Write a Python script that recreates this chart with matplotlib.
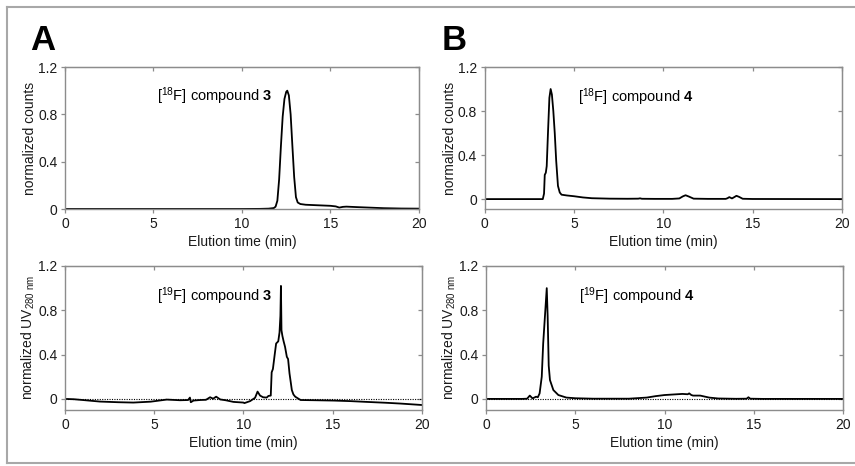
import matplotlib
matplotlib.use("Agg")
import matplotlib.pyplot as plt
from matplotlib.lines import Line2D

plt.rcParams['font.family'] = ['Liberation Sans', 'DejaVu Sans']
plt.rcParams['mathtext.fontset'] = 'custom'
plt.rcParams['mathtext.rm'] = 'Liberation Sans'
plt.rcParams['mathtext.it'] = 'Liberation Sans:italic'
plt.rcParams['mathtext.bf'] = 'Liberation Sans:bold'

# A, top: [18F] compound 3 radio trace
t_a18 = [0, 5, 10, 11.0, 11.5, 11.8, 11.9, 12.0, 12.1, 12.2, 12.3, 12.4, 12.5, 12.56,
         12.65, 12.75, 12.85, 12.95, 13.05, 13.15, 13.3, 13.6, 14.2, 15.0, 15.3, 15.5,
         15.7, 15.9, 16.5, 17.0, 18.0, 19.0, 20.0]
v_a18 = [0, 0, 0, 0.001, 0.003, 0.008, 0.02, 0.07, 0.25, 0.53, 0.78, 0.93, 0.99, 1.0,
         0.96, 0.8, 0.53, 0.27, 0.1, 0.055, 0.042, 0.036, 0.032, 0.027, 0.022, 0.012,
         0.018, 0.02, 0.016, 0.013, 0.007, 0.004, 0.003]

# B, top: [18F] compound 4 radio trace
t_b18 = [0, 3.0, 3.25, 3.32, 3.36, 3.42, 3.47, 3.54, 3.62, 3.69, 3.76, 3.84, 3.92, 4.0,
         4.1, 4.2, 4.3, 4.6, 5.0, 5.5, 6.0, 7.0, 8.0, 8.6, 8.7, 8.8, 9.5, 10.5, 10.9,
         11.1, 11.25, 11.45, 11.7, 12.5, 13.5, 13.6, 13.7, 13.85, 14.0, 14.1, 14.25,
         14.45, 15.0, 20.0]
v_b18 = [0, 0, 0.0, 0.05, 0.22, 0.24, 0.3, 0.6, 0.92, 1.0, 0.95, 0.8, 0.6, 0.35,
         0.12, 0.06, 0.04, 0.033, 0.026, 0.015, 0.008, 0.004, 0.003, 0.004, 0.007, 0.003,
         0.002, 0.002, 0.006, 0.025, 0.035, 0.022, 0.004, 0.002, 0.002, 0.008, 0.018,
         0.006, 0.02, 0.03, 0.02, 0.003, 0.001, 0.0]

# A, bottom: [19F] compound 3 UV trace
t_a19 = [0, 0.5, 1.0, 1.96, 3.0, 3.83, 4.8, 5.7, 6.45, 6.9, 7.0, 7.05, 7.2, 7.57,
         7.9, 8.13, 8.3, 8.47, 8.7, 9.0, 9.44, 10.0, 10.05, 10.37, 10.65, 10.79, 10.93,
         11.1, 11.3, 11.4, 11.53, 11.58, 11.65, 11.75, 11.83, 11.95, 12.02, 12.07, 12.1,
         12.13, 12.18, 12.25, 12.33, 12.43, 12.5, 12.58, 12.65, 12.71, 12.8, 12.9, 13.2,
         14.0, 15.05, 16.0, 16.9, 18.0, 18.8, 20.0]
v_a19 = [0, -0.003, -0.01, -0.024, -0.03, -0.033, -0.025, -0.006, -0.012, -0.01, 0.012,
         -0.03, -0.015, -0.01, -0.008, 0.015, 0.002, 0.02, -0.005, -0.012, -0.027, -0.033,
         -0.038, -0.02, 0.01, 0.066, 0.03, 0.015, 0.012, 0.027, 0.03, 0.24, 0.27, 0.4,
         0.5, 0.52, 0.6, 0.75, 1.02, 0.62, 0.57, 0.52, 0.47, 0.38, 0.36, 0.23, 0.15, 0.08,
         0.04, 0.02, -0.01, -0.012, -0.015, -0.02, -0.027, -0.035, -0.042, -0.055]

# B, bottom: [19F] compound 4 UV trace
t_b19 = [0, 2.0, 2.3, 2.45, 2.6, 2.7, 2.8, 2.9, 3.0, 3.12, 3.2, 3.3, 3.4, 3.45, 3.51,
         3.58, 3.77, 4.05, 4.5, 5.0, 6.0, 8.0, 9.0, 9.5, 10.0, 10.5, 11.0, 11.3, 11.38,
         11.5, 11.6, 12.0, 12.5, 13.0, 14.0, 14.6, 14.7, 14.8, 15.5, 20.0]
v_b19 = [0, 0, 0.002, 0.03, 0.005, 0.012, 0.02, 0.015, 0.05, 0.2, 0.5, 0.75, 1.0, 0.75,
         0.3, 0.17, 0.08, 0.035, 0.012, 0.006, 0.002, 0.002, 0.012, 0.025, 0.035, 0.04,
         0.045, 0.042, 0.05, 0.035, 0.03, 0.03, 0.012, 0.004, 0.001, 0.002, 0.015, 0.002,
         0.0, 0.0]

x_ticks = [0, 5, 10, 15, 20]
y_ticks = [0, 0.4, 0.8, 1.2]
y_tick_labels = ['0', '0.4', '0.8', '1.2']

SPINE = '#8c8c8c'


def style_axes(ax, ybottom, ylabel):
    ax.set_xlim(0, 20)
    ax.set_ylim(ybottom, 1.2)
    ax.set_xticks(x_ticks)
    ax.set_yticks(y_ticks)
    ax.set_yticklabels(y_tick_labels)
    for s in ax.spines.values():
        s.set_color(SPINE)
        s.set_linewidth(1.0)
    ax.tick_params(direction='out', length=3, width=0.9, color=SPINE,
                   labelsize=10, labelcolor='#1a1a1a', pad=2.5)
    # inward ticks on top and right edges
    top = ax.secondary_xaxis('top')
    top.set_xticks(x_ticks)
    top.tick_params(direction='in', length=3, width=0.9, color=SPINE, labeltop=False)
    top.spines['top'].set_color(SPINE)
    right = ax.secondary_yaxis('right')
    right.set_yticks(y_ticks)
    right.tick_params(direction='in', length=3, width=0.9, color=SPINE, labelright=False)
    right.spines['right'].set_color(SPINE)
    ax.set_xlabel('Elution time (min)', fontsize=10, labelpad=3, color='#1a1a1a')
    ax.set_ylabel(ylabel, fontsize=10, labelpad=1, color='#1a1a1a')


fig = plt.figure(figsize=(8.55, 4.66), dpi=100)

ax1 = fig.add_axes([0.076, 0.5515, 0.414, 0.3047])
ax2 = fig.add_axes([0.567, 0.5515, 0.4175, 0.3047])
ax3 = fig.add_axes([0.076, 0.1202, 0.4175, 0.309])
ax4 = fig.add_axes([0.5685, 0.1202, 0.4175, 0.309])

ax1.plot(t_a18, v_a18, color='black', lw=1.3)
style_axes(ax1, 0, 'normalized counts')
ax1.text(5.2, 0.95, r'[$^{18}$F] compound $\mathbf{3}$', fontsize=10.5, va='center')

ax2.plot(t_b18, v_b18, color='black', lw=1.3)
style_axes(ax2, -0.09, 'normalized counts')
ax2.text(5.2, 0.93, r'[$^{18}$F] compound $\mathbf{4}$', fontsize=10.5, va='center')

for ax in (ax3, ax4):
    ax.axhline(0, color='black', lw=0.8, ls=(0, (1, 1.2)))

ax3.plot(t_a19, v_a19, color='black', lw=1.3)
style_axes(ax3, -0.1, r'normalized UV$_{280\ \mathrm{nm}}$')
ax3.text(5.15, 0.93, r'[$^{19}$F] compound $\mathbf{3}$', fontsize=10.5, va='center')

ax4.plot(t_b19, v_b19, color='black', lw=1.3)
style_axes(ax4, -0.1, r'normalized UV$_{280\ \mathrm{nm}}$')
ax4.text(5.2, 0.93, r'[$^{19}$F] compound $\mathbf{4}$', fontsize=10.5, va='center')

fig.text(30 / 855, 1 - 50 / 466, 'A', fontsize=25, fontweight='bold', va='baseline')
fig.text(442 / 855, 1 - 50 / 466, 'B', fontsize=25, fontweight='bold', va='baseline')

# grey frame around the figure (open at the right edge)
frame = dict(color='#a8a8a8', lw=1.5, transform=fig.transFigure)
fig.add_artist(Line2D([7 / 855, 1], [1 - 6.5 / 466] * 2, **frame))
fig.add_artist(Line2D([7 / 855, 1], [1 - 463 / 466] * 2, **frame))
fig.add_artist(Line2D([7 / 855] * 2, [1 - 6.5 / 466, 1 - 463 / 466], **frame))

fig.savefig('out.png', dpi=100)
